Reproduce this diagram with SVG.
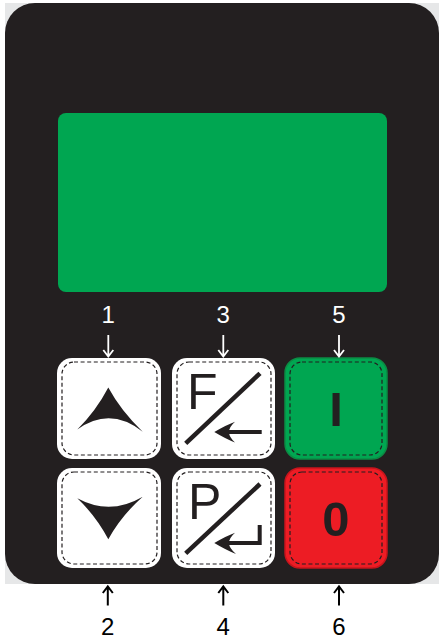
<svg xmlns="http://www.w3.org/2000/svg" width="443" height="642" viewBox="0 0 443 642">
<defs>
<style>
.dash{fill:none;stroke:#231f20;stroke-width:1.2;stroke-dasharray:4 2.6}
.ink{fill:#231f20}
.slash{stroke:#231f20;stroke-width:4.5;stroke-linecap:butt;fill:none}
.shaft{stroke:#231f20;stroke-width:4;fill:none}
.lblw{font-family:"Liberation Sans",Arial,sans-serif;font-size:24px;fill:#ffffff;text-anchor:middle}
.lblb{font-family:"Liberation Sans",Arial,sans-serif;font-size:24px;fill:#000000;text-anchor:middle}
.key{font-family:"Liberation Sans",Arial,sans-serif;font-size:50px;fill:#231f20}
.keyb{font-family:"Liberation Sans",Arial,sans-serif;font-size:49px;font-weight:bold;fill:#231f20;text-anchor:middle}
.arrw{stroke:#ffffff;stroke-width:1.8;fill:none}
.arrb{stroke:#000000;stroke-width:2;fill:none}
</style>
</defs>
<rect x="5" y="3" width="434" height="581" fill="#e6e7e8"/>
<rect id="panel" x="5" y="3" width="434" height="581" rx="30" fill="#231f20"/>
<rect id="display" x="58" y="113" width="329" height="179" rx="8" fill="#00a651"/>

<g id="key-up">
<rect x="57" y="358" width="104" height="101" rx="15" fill="#ffffff"/>
<rect class="dash" x="62" y="362" width="95" height="93" rx="12"/>
<path class="ink" d="M108.3,387.5 Q96,411 77.3,429.5 Q110,406 142.7,431.7 Q121,411 108.3,387.5 Z"/>
</g>
<g id="key-down">
<rect x="57" y="468" width="104" height="100" rx="15" fill="#ffffff"/>
<rect class="dash" x="62" y="472" width="95" height="92" rx="12"/>
<path class="ink" d="M77.3,498.3 Q110,516 142.7,496.7 Q121,516 108.3,539.3 Q96,516 77.3,498.3 Z"/>
</g>
<g id="key-f">
<rect x="172" y="358" width="103" height="101" rx="15" fill="#ffffff"/>
<rect class="dash" x="177" y="362" width="94" height="93" rx="12"/>
<text class="key" x="187" y="409.3">F</text>
<line class="slash" x1="185.7" y1="443.3" x2="260" y2="373.3"/>
<line class="shaft" x1="228" y1="432" x2="261.7" y2="432"/>
<path class="ink" d="M214.3,432 Q226,425 235,421.7 Q229,427 229,432 Q229,437 235,442.5 Q226,439 214.3,432 Z"/>
</g>
<g id="key-p">
<rect x="172" y="468" width="103" height="100" rx="15" fill="#ffffff"/>
<rect class="dash" x="177" y="472" width="94" height="92" rx="12"/>
<text class="key" x="188" y="519.3">P</text>
<line class="slash" x1="185.7" y1="553.3" x2="260" y2="484"/>
<path class="shaft" d="M228,543 H259.7 V525"/>
<path class="ink" d="M214.3,543 Q226,536 235,532.7 Q229,538 229,543 Q229,548 236,554 Q226,550 214.3,543 Z"/>
</g>
<g id="key-run">
<rect x="285" y="358" width="102" height="101" rx="15" fill="#00a651" stroke="#0b8c44" stroke-width="1.5"/>
<rect class="dash" x="290" y="362" width="92" height="93" rx="12"/>
<text class="keyb" x="336" y="426">I</text>
</g>
<g id="key-stop">
<rect x="285" y="468" width="102" height="100" rx="15" fill="#ed1c24" stroke="#c8141c" stroke-width="1.5"/>
<rect class="dash" x="290" y="472" width="92" height="92" rx="12"/>
<text class="keyb" x="336" y="536" font-size="48">0</text>
</g>

<g id="connectors">
<path class="arrw" d="M108.3,335 V356 M103.3,350 L108.3,356.5 L113.3,350"/>
<path class="arrw" d="M223.3,335 V356 M218.3,350 L223.3,356.5 L228.3,350"/>
<path class="arrw" d="M339,335 V356 M334,350 L339,356.5 L344,350"/>
<path class="arrb" d="M107.8,605.5 V587 M102.8,593 L107.8,586.5 L112.8,593"/>
<path class="arrb" d="M223.3,605.5 V587 M218.3,593 L223.3,586.5 L228.3,593"/>
<path class="arrb" d="M339,605.5 V587 M334,593 L339,586.5 L344,593"/>
</g>

<g id="labels">
<text class="lblw" x="108.3" y="322.7">1</text>
<text class="lblw" x="223.3" y="322.7">3</text>
<text class="lblw" x="339" y="322.7">5</text>
<text class="lblb" x="107.8" y="635">2</text>
<text class="lblb" x="223.3" y="635">4</text>
<text class="lblb" x="339" y="635">6</text>
</g>
</svg>
